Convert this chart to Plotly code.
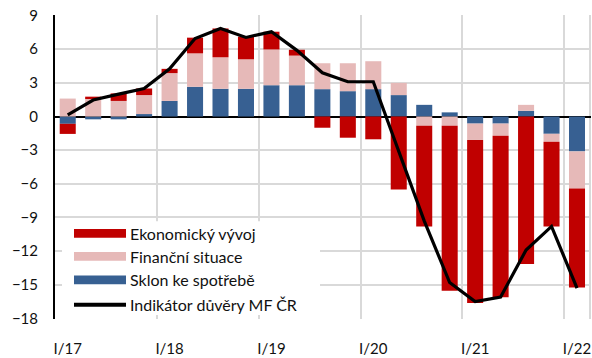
import plotly.graph_objects as go

# Quarters from I/2017 to I/2022
quarters = [
    "I/17", "II/17", "III/17", "IV/17",
    "I/18", "II/18", "III/18", "IV/18",
    "I/19", "II/19", "III/19", "IV/19",
    "I/20", "II/20", "III/20", "IV/20",
    "I/21", "II/21", "III/21", "IV/21",
    "I/22",
]

# Contributions to the confidence indicator (p.p.)
sklon_ke_spotrebe = [-0.65, -0.25, -0.25, 0.22, 1.39, 2.65, 2.47, 2.47, 2.79, 2.79, 2.44,
                     2.26, 2.44, 1.91, 1.04, 0.37, -0.63, -0.63, 0.51, -1.54, -3.11]
financni_situace = [1.60, 1.62, 1.39, 1.69, 2.48, 2.98, 2.81, 2.63, 3.19, 2.64, 2.31,
                    2.49, 2.49, 1.09, -0.83, -0.83, -1.46, -1.08, 0.53, -0.70, -3.31]
ekonomicky_vyvoj = [-0.90, 0.15, 0.67, 0.59, 0.38, 1.40, 2.57, 2.02, 1.58, 0.52, -1.00,
                    -1.89, -2.03, -6.50, -8.97, -14.70, -14.54, -14.40, -13.14, -7.56, -8.82]
indikator_duvery = [0.15, 1.47, 2.00, 2.50, 4.25, 6.95, 7.85, 7.05, 7.55, 5.90, 3.90,
                    3.10, 3.10, -3.10, -9.30, -14.80, -16.50, -16.10, -11.90, -9.80, -15.30]

series_names = ["Ekonomický vývoj", "Finanční situace", "Sklon ke spotřebě",
                "Indikátor důvěry MF ČR"]

RED = "#C00000"
PINK = "#E6B9B8"
BLUE = "#376092"
GRID = "#D9D9D9"
FONT = "Lato"

x = list(range(len(quarters)))
tick_idx = list(range(0, len(quarters), 4))

fig = go.Figure()
for vals, color, name in [
    (sklon_ke_spotrebe, BLUE, series_names[2]),
    (financni_situace, PINK, series_names[1]),
    (ekonomicky_vyvoj, RED, series_names[0]),
]:
    fig.add_trace(go.Bar(x=x, y=vals, name=name, marker_color=color,
                         marker_line_width=0, width=0.63, showlegend=False))

fig.add_trace(go.Scatter(x=x, y=indikator_duvery, name=series_names[3], mode="lines",
                         line=dict(color="black", width=3.2), showlegend=False))

W, H = 592, 358
L, R, T, B = 55, 1, 15, 32
pw, ph = W - L - R, H - T - B


def px_x(p):
    return (p - L) / pw


def px_y(p):
    return (H - B - p) / ph


# Legend box drawn over the plot area, bottom-left
shapes = [dict(type="rect", xref="paper", yref="paper", layer="above",
               x0=px_x(62), x1=px_x(320), y0=px_y(322), y1=px_y(226),
               fillcolor="white", line_width=0)]
rows = [238.5, 262.0, 286.0, 311.5]
swatch_colors = [RED, PINK, BLUE]
annotations = []
for i, name in enumerate(series_names):
    yc = rows[i]
    if i < 3:
        shapes.append(dict(type="rect", xref="paper", yref="paper", layer="above",
                           x0=px_x(74), x1=px_x(126), y0=px_y(yc + 4.5), y1=px_y(yc - 4.5),
                           fillcolor=swatch_colors[i], line_width=0))
    else:
        shapes.append(dict(type="line", xref="paper", yref="paper", layer="above",
                           x0=px_x(74), x1=px_x(126), y0=px_y(yc), y1=px_y(yc),
                           line=dict(color="black", width=4)))
    annotations.append(dict(xref="paper", yref="paper", x=px_x(128), y=px_y(yc),
                            xanchor="left", yanchor="middle", showarrow=False,
                            text=name, font=dict(family=FONT, size=16, color="#111")))

n = len(quarters)
fig.update_layout(
    width=W, height=H,
    margin=dict(l=L, r=R, t=T, b=B, pad=0),
    barmode="relative",
    plot_bgcolor="white", paper_bgcolor="white",
    font=dict(family=FONT, size=15, color="#111"),
    shapes=shapes,
    annotations=annotations,
    xaxis=dict(
        range=[-0.5, n - 0.45],
        tickmode="array", tickvals=tick_idx, ticktext=[quarters[i] for i in tick_idx],
        showgrid=False, zeroline=False, showline=False, ticks="",
        ticklabelstandoff=19,
        minor=dict(tickmode="array",
                   tickvals=[i - 0.5 for i in tick_idx[1:]] + [n - 0.5],
                   showgrid=True, gridcolor=GRID, gridwidth=2, ticks=""),
    ),
    yaxis=dict(
        range=[-18.05, 9.05], tickmode="array", tickvals=list(range(-18, 10, 3)),
        showgrid=True, gridcolor=GRID, gridwidth=2,
        zeroline=True, zerolinecolor="black", zerolinewidth=1.5,
        showline=True, linecolor="black", linewidth=2,
        ticks="", ticklabelstandoff=12,
    ),
)

fig.write_html("out.html")
